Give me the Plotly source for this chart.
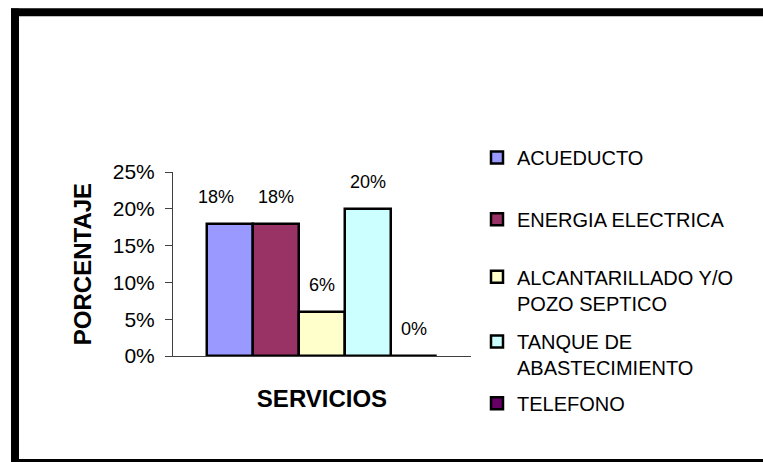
import plotly.graph_objects as go

# data
series = ["ACUEDUCTO", "ENERGIA ELECTRICA", "ALCANTARILLADO Y/O<br>POZO SEPTICO",
          "TANQUE DE<br>ABASTECIMIENTO", "TELEFONO"]
values = [0.18, 0.18, 0.06, 0.20, 0.0]
labels = ["18%", "18%", "6%", "20%", "0%"]
colors = ["#9999FF", "#993366", "#FFFFCC", "#CCFFFF", "#660066"]
y_ticks = [0, 0.05, 0.10, 0.15, 0.20, 0.25]

FONT = "Liberation Sans, Arial, sans-serif"

# plot area in page pixels (763 x 462)
W, H = 763, 462
L, R, T, B = 173, 471, 171.5, 356.5
pw, ph = R - L, B - T


def px_x(v):
    return (v - L) / pw


def px_y(v):
    return (B - v) / ph


fig = go.Figure()

# legend centers (px) for each entry
legend_y = [157, 219, 290, 355, 404]

for i, (name, val, col) in enumerate(zip(series, values, colors)):
    lg = "legend" if i == 0 else f"legend{i + 1}"
    fig.add_trace(go.Bar(
        x=[name], y=[val], name=name,
        marker=dict(color=col, line=dict(color="black", width=2.5)),
        width=1,
        legend=lg,
        hoverinfo="skip",
    ))

# value labels above bars
xshifts = [-14, 0, 0, 0, 0]
for name, val, lab, xs in zip(series, values, labels, xshifts):
    fig.add_annotation(x=name, y=val, text=lab, showarrow=False,
                       yshift=27, xshift=xs,
                       font=dict(family=FONT, size=18, color="black"))

legends = {}
for i, ly in enumerate(legend_y):
    key = "legend" if i == 0 else f"legend{i + 1}"
    legends[key] = dict(
        x=px_x(477), y=px_y(ly), xanchor="left", yanchor="middle",
        bgcolor="rgba(0,0,0,0)", valign="top",
        font=dict(family=FONT, size=20, color="black"),
    )

# outer frame: top, left and bottom edges (right edge is off the page)
frame = dict(type="line", xref="paper", yref="paper",
             line=dict(color="black", width=8))
shapes = [
    dict(frame, x0=px_x(11), x1=px_x(800), y0=px_y(11), y1=px_y(11)),
    dict(frame, x0=px_x(15), x1=px_x(15), y0=px_y(7), y1=px_y(470)),
    dict(frame, x0=px_x(11), x1=px_x(800), y0=px_y(464), y1=px_y(464)),
]

fig.update_layout(
    width=W, height=H,
    margin=dict(l=L, r=W - R, t=T, b=H - B, autoexpand=False),
    paper_bgcolor="white", plot_bgcolor="white",
    barmode="overlay", bargap=0,
    showlegend=True,
    **legends,
    xaxis=dict(
        type="category", range=[-1.239, 5.239],
        showticklabels=False, ticks="", showgrid=False, zeroline=False,
        showline=True, linecolor="#404040", linewidth=1,
        title=dict(text="<b>SERVICIOS</b>", standoff=34,
                   font=dict(family=FONT, size=24, color="black")),
    ),
    yaxis=dict(
        range=[0, 0.25], tickvals=y_ticks, tickformat=".0%",
        ticks="outside", ticklen=7, tickcolor="#404040",
        showgrid=False, zeroline=False,
        showline=True, linecolor="#404040", linewidth=1,
        ticklabelstandoff=6,
        tickfont=dict(family=FONT, size=21, color="black"),
        title=dict(text="<b>PORCENTAJE</b>", standoff=14,
                   font=dict(family=FONT, size=24, color="black")),
    ),
    shapes=shapes,
)

# put the figure at the page origin and keep the page from scrolling
fig.write_html(
    "out.html", config={"displayModeBar": False},
    post_script="document.body.style.margin='0';"
                "document.documentElement.style.overflow='hidden';",
)
